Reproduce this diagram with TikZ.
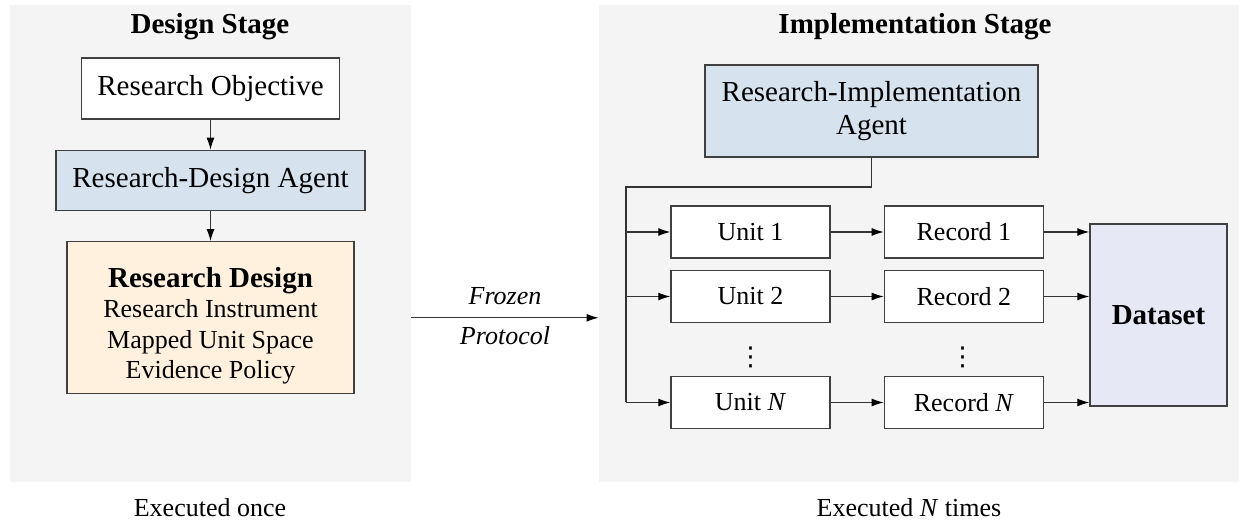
\documentclass[tikz,border=0pt]{standalone}
\usepackage{fontspec}
\setmainfont{Liberation Serif}
\newfontfamily\dotsfont{DejaVu Sans}
\usepackage{tikz}
\usetikzlibrary{arrows.meta,positioning,calc}
\definecolor{panelgray}{HTML}{F4F4F4}
\definecolor{agentblue}{HTML}{D6E3EE}
\definecolor{designpeach}{HTML}{FFF1DE}
\definecolor{datalavender}{HTML}{E6E8F5}
\definecolor{boxline}{HTML}{404040}
\definecolor{wire}{HTML}{333333}
\tikzset{
    stage/.style={fill=panelgray, draw=none, inner sep=0pt},
    stagetitle/.style={font=\fontsize{14.5}{16.5}\selectfont\bfseries},
    bigbox/.style={draw=boxline, line width=0.7pt, align=center, inner sep=0pt, font=\fontsize{14.5}{16.5}\selectfont},
    agent/.style={bigbox, fill=agentblue},
    stepbox/.style={draw=boxline, line width=0.7pt, fill=white, inner sep=0pt, minimum width=79.5pt, minimum height=26pt, font=\fontsize{13}{15}\selectfont},
    note/.style={font=\fontsize{13}{15}\selectfont},
    gap/.style={inner sep=0pt, font=\dotsfont\fontsize{13}{15}\selectfont},
    flow/.style={-{Latex[length=6pt, width=4pt, color=black]}, line width=0.6pt, draw=wire},
    link/.style={line width=0.6pt, draw=wire}
}

\begin{document}
\begin{tikzpicture}[x=0.5pt, y=-0.5pt]
            \useasboundingbox (0,0) rectangle (1239,522);

            % Design stage
            \node[stage, minimum width=200.5pt, minimum height=238.5pt] (designpanel) at (210.5,243.5) {};
            \node[stagetitle] (dtitle) at (210,27) {Design Stage};
            \node[bigbox, fill=white, minimum width=129pt, minimum height=30.5pt] (obj) at (210.5,88.5) {Research Objective};
            \node[agent, minimum width=154.5pt, minimum height=30pt, below=15pt of obj] (rda) {Research-Design Agent};
            \node[bigbox, fill=designpeach, minimum width=143.5pt, minimum height=76pt, below=15pt of rda,
                  font=\fontsize{13}{15.3}\selectfont] (rdesign)
                {\rule{0pt}{18pt}{\fontsize{14.5}{15.3}\selectfont\bfseries Research Design}\\Research Instrument\\Mapped Unit Space\\Evidence Policy};
            \draw[flow] (obj) -- (rda);
            \draw[flow] (rda) -- (rdesign);
            \node[note] (once) at (210,508) {Executed once};

            % Implementation stage
            \node[stage, minimum width=320pt, minimum height=238.5pt] (implpanel) at (919,243.5) {};
            \node[stagetitle] (ititle) at (915,27) {Implementation Stage};
            \node[agent, minimum width=166.5pt, minimum height=46pt] (ria) at (871.5,111) {Research-Implementation\\Agent};

            \node[stepbox] (u1) at (750.5,232) {Unit 1};
            \node[stepbox, right=26.5pt of u1] (r1) {Record 1};
            \node[stepbox] (u2) at (750.5,296.5) {Unit 2};
            \node[stepbox, right=26.5pt of u2] (r2) {Record 2};
            \node[stepbox] (un) at (750.5,402.5) {Unit \textit{N}};
            \node[stepbox, right=26.5pt of un] (rn) {Record \textit{N}};
            \node[gap] (udots) at (750.5,357) {⋮};
            \node[gap] (rdots) at (962.5,357) {⋮};

            \node[bigbox, fill=datalavender, minimum width=68.5pt, minimum height=91pt, font=\fontsize{14.5}{16.5}\selectfont\bfseries] (dataset) at (1158.5,315) {Dataset};

            % fan out from the agent
            \coordinate (bus) at (626,187);
            \draw[link] (ria.south) |- (bus) -- (bus |- un);
            \draw[flow] (bus |- u1) -- (u1);
            \draw[flow] (bus |- u2) -- (u2);
            \draw[flow] (bus |- un) -- (un);
            \draw[flow] (u1) -- (r1);
            \draw[flow] (u2) -- (r2);
            \draw[flow] (un) -- (rn);
            \draw[flow] (r1) -- (r1 -| dataset.west);
            \draw[flow] (r2) -- (r2 -| dataset.west);
            \draw[flow] (rn) -- (rn -| dataset.west);
            \node[note] (ntimes) at (909,508) {Executed \textit{N} times};

            % hand-over between stages
            \draw[flow] (designpanel.east |- rdesign) -- node[note, above=3pt] (frozen) {\textit{Frozen}}
                node[note, below=0.5pt] (protocol) {\textit{Protocol}} (implpanel.west |- rdesign);
        \end{tikzpicture}
\end{document}
